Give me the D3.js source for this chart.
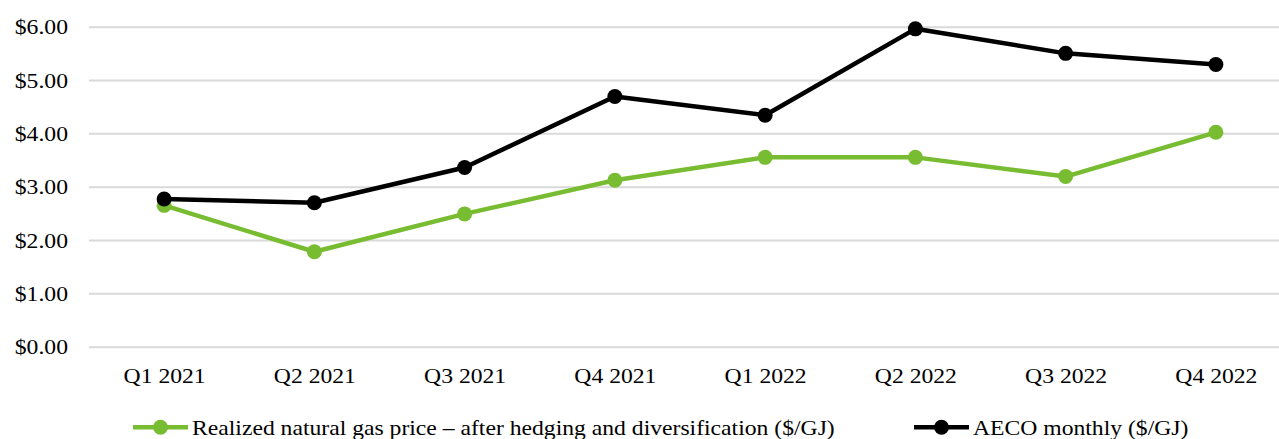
<!DOCTYPE html>
<html>
<head>
<meta charset="utf-8">
<script src="https://cdn.jsdelivr.net/npm/d3@7"></script>
<style>
  body { margin: 0; background: #fff; }
  svg { display: block; font-family: "Liberation Serif", "Times New Roman", serif; }
</style>
</head>
<body>
<svg id="chart"></svg>
<script>
(function () {
    // Data
    const quarters = ["Q1 2021", "Q2 2021", "Q3 2021", "Q4 2021", "Q1 2022", "Q2 2022", "Q3 2022", "Q4 2022"];
    const realizedPrice = [2.65, 1.78, 2.49, 3.12, 3.55, 3.55, 3.19, 4.02];
    const aecoMonthly = [2.77, 2.70, 3.36, 4.69, 4.34, 5.96, 5.50, 5.29];
    const yTicks = [0, 1, 2, 3, 4, 5, 6];
    const seriesNames = ["Realized natural gas price \u2013 after hedging and diversification ($/GJ)", "AECO monthly ($/GJ)"];

    // Set dimensions
    const width = 1279;
    const height = 439;
    const plot = { left: 89, right: 1291, top: 26.7, bottom: 346.7 };
    const fontSize = 21.5;
    const stretch = 1.1; // text in the reference is a bit wide

    const green = "#78bc32";
    const black = "#000000";

    const svg = d3.select("#chart")
        .attr("width", width)
        .attr("height", height);

    const x = d3.scalePoint()
        .domain(quarters)
        .range([plot.left, plot.right])
        .padding(0.5);

    const y = d3.scaleLinear()
        .domain([0, 6])
        .range([plot.bottom, plot.top]);

    // Gridlines + y labels
    const yAxis = svg.append("g")
        .attr("transform", `translate(${plot.left}, 0)`)
        .call(d3.axisLeft(y)
            .tickValues(yTicks)
            .tickSize(-(plot.right - plot.left))
            .tickFormat(d => "$" + d.toFixed(2)));

    yAxis.select(".domain").remove();
    yAxis.selectAll(".tick line")
        .attr("stroke", "#d9d9d9")
        .attr("stroke-width", 2);
    yAxis.selectAll(".tick text")
        .attr("x", 0)
        .attr("dy", "0.33em")
        .attr("transform", `translate(-21, 0) scale(${stretch}, 1)`)
        .attr("font-size", fontSize)
        .attr("font-family", "Liberation Serif")
        .attr("fill", "#000");

    // x labels
    const xAxis = svg.append("g")
        .attr("transform", `translate(0, ${plot.bottom})`)
        .call(d3.axisBottom(x).tickSize(0));

    xAxis.select(".domain").remove();
    xAxis.selectAll(".tick text")
        .attr("y", 0)
        .attr("dy", 0)
        .attr("transform", `translate(0, 36.3) scale(${stretch}, 1)`)
        .attr("font-size", fontSize)
        .attr("font-family", "Liberation Serif")
        .attr("fill", "#000");

    // Lines
    const line = d3.line()
        .x((d, i) => x(quarters[i]))
        .y(d => y(d));

    const series = [
        { name: seriesNames[0], values: realizedPrice, color: green },
        { name: seriesNames[1], values: aecoMonthly, color: black }
    ];

    series.forEach(s => {
        svg.append("path")
            .datum(s.values)
            .attr("fill", "none")
            .attr("stroke", s.color)
            .attr("stroke-width", 4.5)
            .attr("stroke-linejoin", "round")
            .attr("d", line);

        svg.append("g")
            .selectAll("circle")
            .data(s.values)
            .join("circle")
            .attr("cx", (d, i) => x(quarters[i]))
            .attr("cy", d => y(d))
            .attr("r", 7.5)
            .attr("fill", s.color);
    });

    // Legend
    const legendY = 427.3;
    const legendX = [133, 914];

    series.forEach((s, i) => {
        const g = svg.append("g")
            .attr("transform", `translate(${legendX[i]}, ${legendY})`);

        g.append("line")
            .attr("x1", 0)
            .attr("x2", 55)
            .attr("y1", 0)
            .attr("y2", 0)
            .attr("stroke", s.color)
            .attr("stroke-width", 4.5);

        g.append("circle")
            .attr("cx", 27.5)
            .attr("cy", 0)
            .attr("r", 7.5)
            .attr("fill", s.color);

        g.append("text")
            .attr("transform", `translate(59, 7.2) scale(${stretch}, 1)`)
            .attr("font-size", fontSize)
            .attr("fill", "#000")
            .text(s.name);
    });
})();
</script>
</body>
</html>
